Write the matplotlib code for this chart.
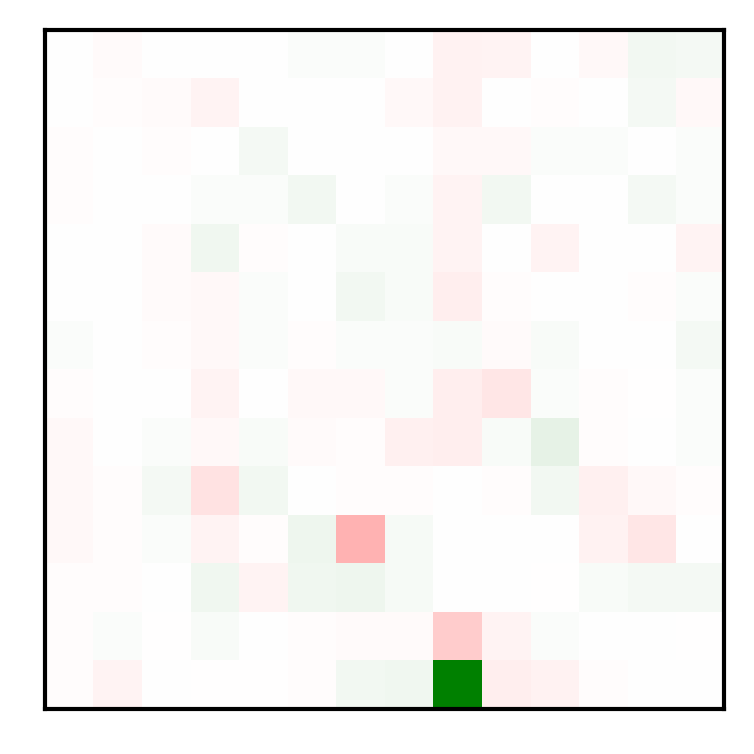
import numpy as np
import matplotlib
matplotlib.use("Agg")
import matplotlib.pyplot as plt
from matplotlib.colors import LinearSegmentedColormap

# cell values (rows top to bottom, 14 x 14)
row00 = [0.003, -0.02, 0.0, 0.0, 0.0, 0.02, 0.02, 0.004, -0.05, -0.04, 0.0, -0.03, 0.05, 0.04]
row01 = [0.0, -0.008, -0.02, -0.04, 0.0, 0.0, 0.0, -0.03, -0.05, 0.0, -0.015, 0.004, 0.04, -0.03]
row02 = [-0.01, 0.0, -0.01, 0.003, 0.04, 0.0, 0.0, 0.003, -0.025, -0.025, 0.02, 0.02, 0.0, 0.02]
row03 = [-0.01, 0.0, 0.003, 0.02, 0.02, 0.05, 0.003, 0.02, -0.04, 0.05, 0.0, 0.0, 0.04, 0.02]
row04 = [0.0, 0.0, -0.02, 0.06, -0.01, 0.005, 0.025, 0.03, -0.04, 0.0, -0.04, 0.004, 0.0, -0.04]
row05 = [0.0, 0.0, -0.02, -0.03, 0.02, 0.0, 0.05, 0.025, -0.07, -0.01, 0.003, 0.0, -0.015, 0.02]
row06 = [0.02, 0.0, -0.01, -0.03, 0.02, -0.015, 0.02, 0.02, 0.03, -0.02, 0.03, 0.0, 0.003, 0.04]
row07 = [-0.015, 0.0, 0.0, -0.04, 0.0, -0.025, -0.03, 0.02, -0.07, -0.1, 0.02, -0.008, -0.005, 0.02]
row08 = [-0.03, 0.0, 0.02, -0.03, 0.03, -0.02, -0.015, -0.06, -0.07, 0.03, 0.1, -0.008, 0.0, 0.02]
row09 = [-0.03, -0.008, 0.04, -0.11, 0.05, 0.0, -0.008, -0.015, 0.0, -0.015, 0.05, -0.06, -0.025, -0.015]
row10 = [-0.025, -0.008, 0.02, -0.04, -0.015, 0.07, -0.3, 0.035, 0.0, 0.003, 0.0, -0.05, -0.1, 0.0]
row11 = [-0.008, -0.015, 0.003, 0.06, -0.04, 0.06, 0.07, 0.035, 0.0, 0.0, -0.006, 0.025, 0.04, 0.04]
row12 = [-0.008, 0.02, -0.006, 0.025, 0.0, -0.015, -0.02, -0.02, -0.2, -0.04, 0.02, 0.0, 0.0, -0.005]
row13 = [-0.015, -0.04, 0.003, -0.006, -0.006, -0.015, 0.05, 0.06, 1.0, -0.07, -0.05, -0.015, 0.003, 0.003]

grid = np.array([row00, row01, row02, row03, row04, row05, row06,
                 row07, row08, row09, row10, row11, row12, row13])

cmap = LinearSegmentedColormap.from_list("rwg", ["red", "white", "green"])
lim = np.abs(grid).max()

fig = plt.figure(figsize=(7.54, 7.54), dpi=100)
ax = fig.add_axes([44.7 / 754, 45.3 / 754, 679.5 / 754, 678.7 / 754])
ax.imshow(grid, cmap=cmap, vmin=-lim, vmax=lim, aspect="auto", interpolation="nearest")
ax.set_xticks([])
ax.set_yticks([])
for s in ax.spines.values():
    s.set_linewidth(3.0)

fig.savefig("out.png", dpi=100)
